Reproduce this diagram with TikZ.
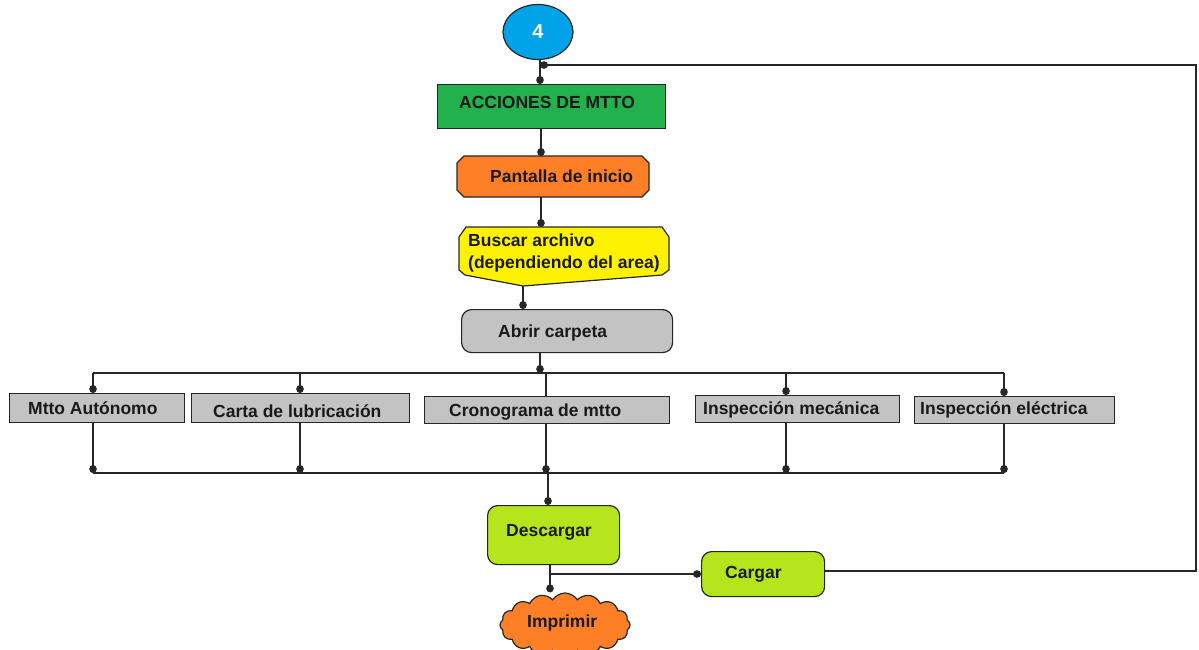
\documentclass[tikz,border=0pt]{standalone}
\usepackage{fontspec}
\setmainfont{Liberation Sans}
\usetikzlibrary{shapes.geometric,shapes.symbols,arrows.meta,calc}

\definecolor{cyanfill}{RGB}{0,162,232}
\definecolor{greenfill}{RGB}{34,177,76}
\definecolor{orangefill}{RGB}{255,127,39}
\definecolor{yellowfill}{RGB}{255,242,0}
\definecolor{grayfill}{RGB}{195,195,195}
\definecolor{limefill}{RGB}{181,230,29}

\begin{document}
\begin{tikzpicture}[x=1pt,y=-1pt,
  outline/.style={draw=black!85, line width=1.2pt},
  shapebox/.style={outline, inner sep=0pt, anchor=north west},
  hidden/.style={inner sep=0pt, anchor=north west},
  lbl/.style={font=\bfseries\fontsize{17.5}{21}\selectfont, text=black!90, inner sep=0pt, anchor=base west},
  conn/.style={draw=black!85, line width=1.2pt},
  dot/.style={conn, -{Circle[length=8pt,width=7.5pt]}},
]
\useasboundingbox (0,0) rectangle (1199,649);

% ---- start connector ----
\node[outline, ellipse, fill=cyanfill, inner sep=0pt, minimum width=70, minimum height=55,
      font=\bfseries\fontsize{20}{24}\selectfont, text=white] (c4) at (538,32) {4};

% ---- main column ----
\node[shapebox, fill=greenfill, minimum width=228, minimum height=44] (accion) at (437,84) {};
\node[lbl] (t-accion) at (459,108) {ACCIONES DE MTTO};

% chamfered start screen box
\node[hidden, minimum width=192, minimum height=41] (pantalla) at (457,156) {};
\filldraw[outline, fill=orangefill]
  (457,163) -- (464,156) -- (642,156) -- (649,163) -- (649,190) -- (642,197)
  -- (464,197) -- (457,190) -- cycle;
\node[lbl] (t-pantalla) at (490,182) {Pantalla de inicio};

% search box with pointed bottom
\node[hidden, minimum width=210, minimum height=58] (buscar) at (459,227) {};
\filldraw[outline, fill=yellowfill]
  (459,237) -- (466,227) -- (662,227) -- (669,237) -- (669,270) -- (662,275)
  -- (523,286) -- (465,275) -- (459,270) -- cycle;
\coordinate (buscartip) at (523,286);
\node[lbl] (t-buscar1) at (468,246) {Buscar archivo};
\node[lbl] (t-buscar2) at (468,268) {(dependiendo del area)};

\node[shapebox, fill=grayfill, rounded corners=10pt, minimum width=211, minimum height=43] (abrir) at (461,309) {};
\node[lbl] (t-abrir) at (498,337) {Abrir carpeta};

% ---- five document boxes ----
\node[shapebox, fill=grayfill, minimum width=175, minimum height=29] (mtto) at (9,393) {};
\node[lbl] (t-mtto) at (28,414) {Mtto Autónomo};
\node[shapebox, fill=grayfill, minimum width=218, minimum height=29] (carta) at (191,393) {};
\node[lbl] (t-carta) at (213,417) {Carta de lubricación};
\node[shapebox, fill=grayfill, minimum width=245, minimum height=27] (crono) at (424,396) {};
\node[lbl] (t-crono) at (449,416) {Cronograma de mtto};
\node[shapebox, fill=grayfill, minimum width=204, minimum height=27] (imec) at (695,395) {};
\node[lbl] (t-imec) at (703,414) {Inspección mecánica};
\node[shapebox, fill=grayfill, minimum width=200, minimum height=27] (ielec) at (914,396) {};
\node[lbl] (t-ielec) at (920,414) {Inspección eléctrica};

% ---- output boxes ----
\node[shapebox, fill=limefill, rounded corners=10pt, minimum width=132, minimum height=59] (desc) at (487,505) {};
\node[lbl] (t-desc) at (506,536) {Descargar};
\node[shapebox, fill=limefill, rounded corners=10pt, minimum width=123, minimum height=45] (cargar) at (701,551) {};
\node[lbl] (t-cargar) at (725,578) {Cargar};
\node[outline, cloud, cloud puffs=16, cloud puff arc=115, aspect=2.1, fill=orangefill,
      inner sep=0pt, minimum width=130, minimum height=64] (imp) at (565,625) {};
\node[lbl] (t-imp) at (527,627) {Imprimir};

% ---- helper coordinates ----
\coordinate (col) at (540,0);
\coordinate (ret) at (540,65);
\coordinate (bus) at (540,373);
\coordinate (low) at (0,473);
\coordinate (dA) at (93,0);
\coordinate (dB) at (300,0);
\coordinate (dC) at (546,0);
\coordinate (dM) at (786,0);
\coordinate (dE) at (1004,0);
\coordinate (split) at (550,574);
\coordinate (rcorner) at (1196,0);

% ---- connectors ----
\draw[dot] (c4.south -| col) -- (accion.north -| col);
\draw[dot] (accion.south -| 541,0) -- (pantalla.north -| 541,0);
\draw[dot] (pantalla.south -| 541,0) -- (buscar.north -| 541,0);
\draw[dot] (buscartip) -- (abrir.north -| buscartip);
\draw[dot] (abrir.south -| col) -- (bus);

\draw[conn] (dA |- bus) -- (dE |- bus);
\draw[dot] (dA |- bus) -- (mtto.north -| dA);
\draw[dot] (dB |- bus) -- (carta.north -| dB);
\draw[conn] (dC |- bus) -- (crono.north -| dC);
\draw[dot] (dM |- bus) -- (imec.north -| dM);
\draw[dot] (dE |- bus) -- (ielec.north -| dE);

\draw[dot] (mtto.south -| dA) -- (dA |- low);
\draw[dot] (carta.south -| dB) -- (dB |- low);
\draw[dot] (crono.south -| dC) -- (dC |- low);
\draw[dot] (imec.south -| dM) -- (dM |- low);
\draw[dot] (ielec.south -| dE) -- (dE |- low);
\draw[conn] (dA |- low) -- (dE |- low);

\draw[dot] (548,473) -- (desc.north -| 548,0);
\draw[conn] (desc.south -| split) -- (split);
\draw[dot] (split) -- (imp.north -| split);
\draw[dot] (split) -- (cargar.west |- split);

\draw[dot] (cargar.east |- 0,571) -- (rcorner |- 0,571) -- (rcorner |- ret) -- (ret);
\end{tikzpicture}
\end{document}
